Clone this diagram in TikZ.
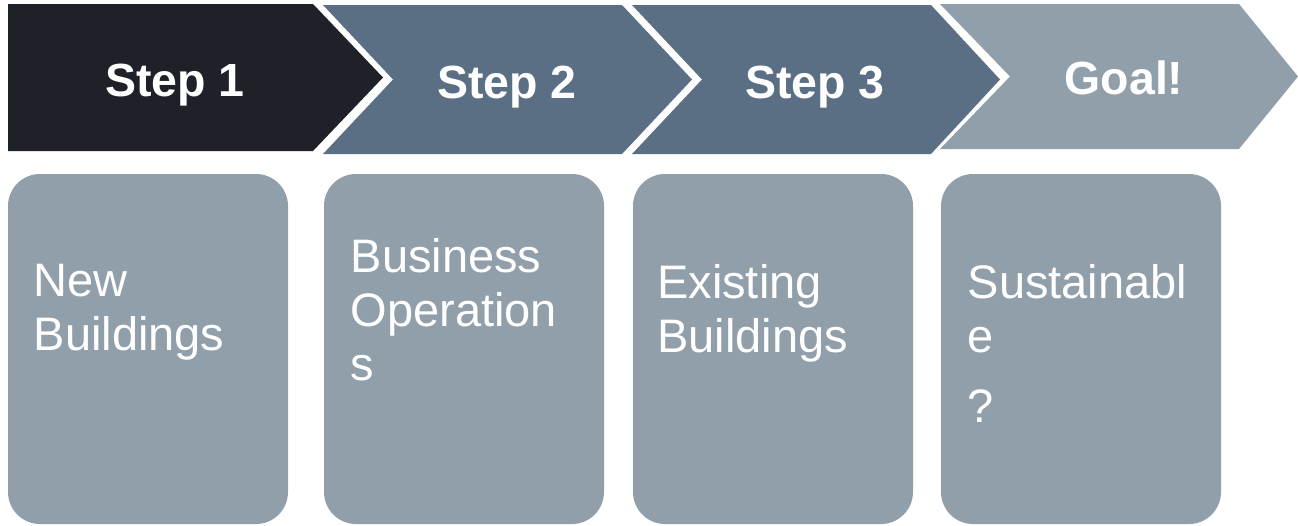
\documentclass[tikz,border=0pt]{standalone}
\usepackage{fontspec}
\setmainfont{Liberation Sans}
\definecolor{cdark}{RGB}{30,33,40}
\definecolor{cmid}{RGB}{90,111,132}
\definecolor{clight}{RGB}{145,159,170}
\tikzset{
  steptitle/.style={text=white, inner sep=0pt, anchor=base, font=\fontsize{46.5}{53.5}\selectfont\bfseries},
  boxtext/.style={text=white, inner sep=0pt, anchor=north west, align=left, font=\fontsize{47}{54}\selectfont},
  panel/.style={fill=clight, rounded corners=32pt}
}
\begin{document}
\begin{tikzpicture}[x=1pt,y=-1pt]
\useasboundingbox (0,0) rectangle (1298,525);
% chevrons
\fill[cdark] (8,4) -- (313,4) -- (383,77.5) -- (313,151) -- (8,151) -- cycle;
\fill[cmid] (323,5) -- (622,5) -- (692,79.5) -- (622,154) -- (323,154) -- (393,79.5) -- cycle;
\fill[cmid] (632,5) -- (931,5) -- (1000,79.5) -- (931,154) -- (632,154) -- (702,79.5) -- cycle;
\fill[clight] (940,4) -- (1239,4) -- (1298,76.5) -- (1239,149) -- (940,149) -- (1010,76.5) -- cycle;
\node[steptitle] (s1) at (175,96.7) {Step 1};
\node[steptitle] (s2) at (507,98) {Step 2};
\node[steptitle] (s3) at (815,98) {Step 3};
\node[steptitle] (s4) at (1124,94) {Goal!};
% panels
\path[panel] (8,174) rectangle (288,524);
\path[panel] (324,174) rectangle (604,524);
\path[panel] (633,174) rectangle (913,524);
\path[panel] (941,174) rectangle (1221,524);
\node[boxtext] (t1) at (33.5,264) {New\\Buildings};
\node[boxtext] (t2) at (350.5,238) {Business\\Operation\\s};
\node[boxtext] (t3) at (657,264) {Existing\\Buildings};
\node[boxtext] (t4) at (967.5,264) {Sustainabl\\e\\[16pt]?};
\end{tikzpicture}
\end{document}
